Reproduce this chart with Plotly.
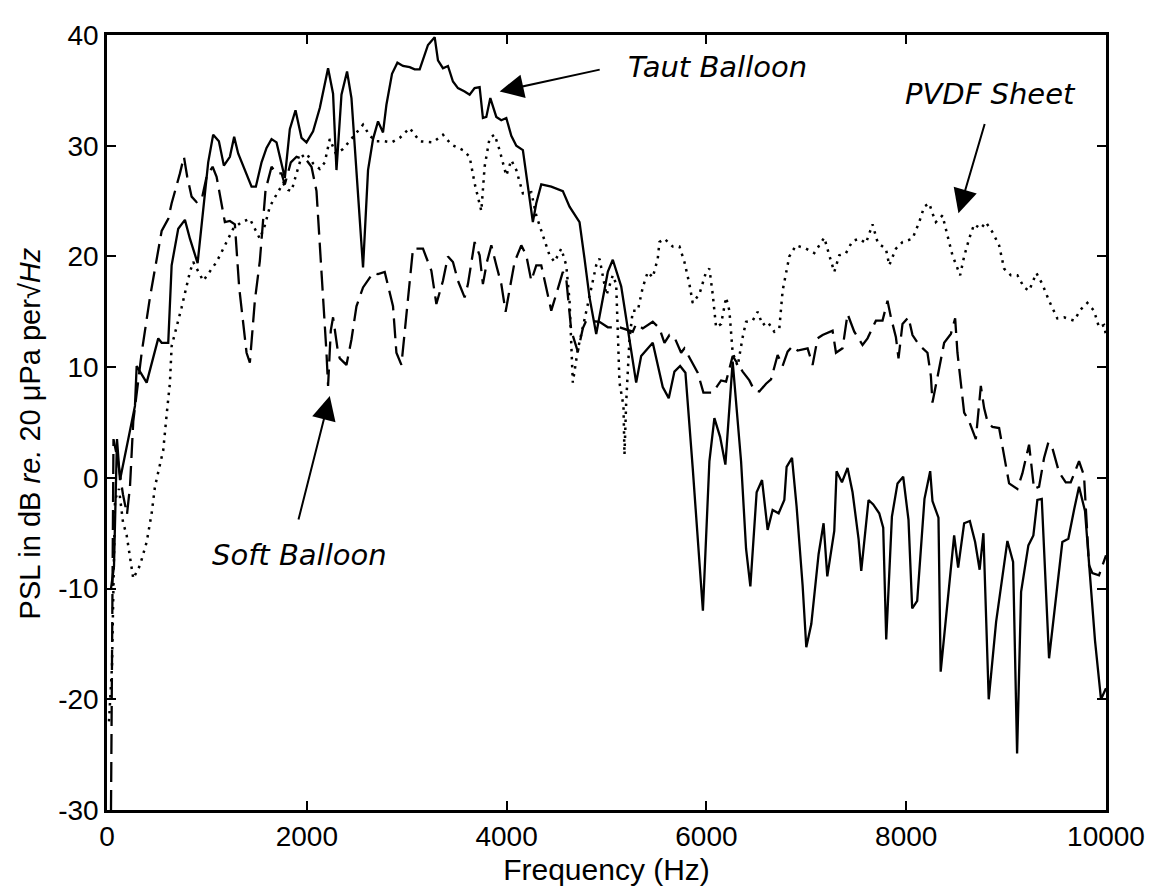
import plotly.graph_objects as go

# ---- Taut Balloon (solid) ----
taut_f = [40, 70, 100, 130, 280, 297, 397, 513, 547, 613, 647, 713, 780, 830, 907, 1013, 1063, 1120, 1170, 1230,
          1273, 1313, 1447, 1490, 1547, 1597, 1647, 1697, 1780, 1830, 1887, 1947, 1997, 2063, 2130, 2213, 2263, 2297,
          2347, 2403, 2447, 2563, 2613, 2663, 2713, 2763, 2797, 2853, 2907, 2963, 3030, 3080, 3130, 3213, 3280, 3313,
          3363, 3413, 3463, 3513, 3580, 3630, 3680, 3730, 3763, 3797, 3837, 3897, 3947, 3997, 4047, 4097, 4163, 4213,
          4263, 4297, 4347, 4447, 4563, 4630, 4730, 4780, 4830, 4897, 5013, 5063, 5147, 5297, 5347, 5463, 5563, 5623,
          5680, 5737, 5790, 5863, 5965, 6030, 6080, 6137, 6190, 6263, 6347, 6397, 6440, 6503, 6557, 6613, 6663, 6723,
          6780, 6803, 6857, 6903, 6963, 7000, 7050, 7123, 7173, 7210, 7280, 7303, 7357, 7413, 7463, 7523, 7550, 7623,
          7670, 7730, 7770, 7800, 7857, 7913, 7970, 8023, 8060, 8110, 8183, 8240, 8263, 8323, 8345, 8480, 8520, 8580,
          8637, 8690, 8735, 8773, 8826, 8900, 9013, 9070, 9110, 9150, 9223, 9273, 9313, 9357, 9430, 9563, 9623, 9680,
          9730, 9790, 9830, 9890, 9950, 10000]
taut_v = [-10, -8, 3.5, -0.2, 6.5, 10.1, 8.6, 12.6, 12.2, 12.2, 19.2, 22.5, 23.3, 21.6, 19.4, 28.5, 31.0, 30.4, 28.2, 29.0,
          30.8, 29.3, 26.3, 26.3, 28.5, 29.8, 30.6, 30.3, 27.1, 31.5, 33.2, 30.7, 30.3, 31.3, 33.4, 37.0, 34.7, 27.8,
          34.6, 36.7, 34.3, 19.0, 27.8, 30.6, 32.2, 31.2, 33.7, 36.5, 37.5, 37.2, 37.1, 36.9, 36.9, 39.1, 39.8, 37.7,
          37.0, 37.2, 35.8, 35.2, 34.9, 34.6, 35.2, 35.3, 32.5, 32.6, 34.3, 32.6, 32.3, 32.5, 30.9, 30.0, 29.6, 26.3,
          23.1, 24.8, 26.5, 26.3, 25.9, 24.5, 23.1, 19.8, 16.3, 13.0, 18.6, 19.7, 17.3, 8.6, 11.0, 12.2, 8.2, 7.2,
          9.6, 10.1, 9.5, 0.9, -12.0, 1.5, 5.4, 3.7, 1.2, 10.5, 1.5, -6.4, -9.8, -1.3, -0.2, -4.7, -2.9, -3.2,
          -2.0, 1.0, 1.8, -2.6, -9.7, -15.3, -13.2, -6.9, -4.1, -8.9, -4.8, 0.6, -0.4, 0.9, -1.3, -5.5, -8.4, -2.0,
          -2.4, -3.2, -4.5, -14.6, -3.5, -0.5, 0.1, -3.8, -11.8, -11.1, -1.9, 0.6, -2.1, -3.6, -17.5, -5.2, -8.1, -4.1,
          -3.9, -5.8, -8.3, -5.0, -20.0, -13.0, -5.7, -7.6, -24.9, -10.3, -6.1, -5.2, -2.0, -1.9, -16.3, -5.8, -5.5, -2.9,
          -0.8, -3.0, -8.0, -14.7, -20.0, -19.0]

# ---- Soft Balloon (dashed) ----
soft_f = [40, 65, 110, 160, 200, 230, 263, 347, 430, 480, 547, 613, 647, 730, 770, 803, 847, 897, 947, 997,
          1057, 1097, 1180, 1230, 1280, 1323, 1397, 1430, 1480, 1530, 1587, 1647, 1697, 1747, 1780, 1840, 1897, 1997,
          2047, 2097, 2163, 2197, 2213, 2240, 2263, 2313, 2330, 2397, 2447, 2497, 2563, 2663, 2713, 2780, 2863, 2897,
          2947, 2997, 3063, 3163, 3247, 3297, 3363, 3413, 3463, 3513, 3580, 3613, 3680, 3730, 3763, 3803, 3847, 3897,
          3947, 3990, 4080, 4147, 4197, 4247, 4297, 4347, 4447, 4497, 4563, 4597, 4647, 4713, 4763, 4797, 4930, 5013,
          5130, 5263, 5297, 5363, 5463, 5530, 5580, 5630, 5680, 5747, 5780, 5913, 5970, 6063, 6147, 6197, 6263, 6363,
          6430, 6480, 6530, 6597, 6647, 6713, 6763, 6813, 6863, 6913, 7013, 7063, 7113, 7163, 7263, 7297, 7363, 7413,
          7480, 7563, 7613, 7697, 7763, 7813, 7847, 7897, 7923, 7963, 8023, 8063, 8130, 8213, 8247, 8263, 8330, 8380,
          8447, 8490, 8513, 8580, 8630, 8697, 8747, 8780, 8813, 8863, 8930, 8980, 9030, 9113, 9163, 9230, 9280, 9330,
          9380, 9423, 9463, 9530, 9597, 9647, 9730, 9780, 9800, 9830, 9863, 9930, 10000]
soft_v = [-30, 3.5, 1.5, -1.5, -3.3, -0.8, 5.1, 11.3, 16.3, 18.9, 22.3, 23.4, 24.8, 27.5, 29.0, 27.2, 25.4, 24.9, 25.1, 27.2,
          28.1, 27.2, 23.1, 23.2, 22.9, 17.2, 11.3, 10.4, 16.0, 19.6, 26.0, 28.1, 27.5, 27.5, 26.5, 28.5, 29.0, 28.7,
          28.1, 25.9, 16.9, 11.3, 8.3, 13.3, 14.5, 11.3, 10.8, 10.2, 12.5, 15.5, 17.2, 18.5, 18.4, 18.6, 15.5, 11.3,
          10.2, 14.5, 20.7, 20.7, 18.7, 15.7, 17.8, 20.0, 19.5, 17.8, 16.3, 17.5, 21.3, 20.1, 17.5, 19.5, 21.0, 19.2,
          17.5, 15.0, 19.5, 21.0, 20.1, 17.8, 19.2, 19.2, 15.1, 16.6, 18.6, 18.0, 13.3, 11.4, 13.5, 14.2, 14.1, 13.6,
          13.6, 13.2, 13.9, 13.5, 14.1, 13.5, 12.2, 12.9, 12.7, 11.3, 11.7, 9.5, 7.7, 7.7, 8.8, 8.7, 11.0, 9.6,
          8.8, 7.9, 7.8, 8.5, 8.9, 11.1, 10.1, 11.4, 11.9, 11.5, 11.7, 10.2, 12.6, 12.9, 13.3, 11.3, 11.7, 14.8,
          13.2, 12.0, 12.6, 14.2, 14.2, 16.0, 14.5, 12.7, 10.8, 13.9, 14.5, 12.9, 12.0, 11.3, 9.2, 6.8, 10.1, 12.2,
          13.0, 14.4, 11.3, 5.9, 5.1, 3.5, 8.3, 6.3, 5.1, 4.6, 4.5, 2.1, -0.5, -1.0, 0.4, 3.0, -1.0, -0.8,
          1.8, 3.2, 2.7, 0.5, -0.4, -0.4, 1.5, 0.2, -3.0, -7.9, -8.6, -8.8, -7.0]

# ---- PVDF Sheet (dotted) ----
pvdf_f = [20, 50, 80, 120, 160, 197, 263, 330, 397, 447, 480, 563, 597, 630, 647, 680, 747, 830, 863, 963,
          1030, 1097, 1197, 1263, 1347, 1430, 1480, 1530, 1580, 1630, 1697, 1763, 1813, 1847, 1897, 1947, 1997, 2063,
          2130, 2180, 2230, 2290, 2363, 2447, 2497, 2563, 2630, 2697, 2780, 2847, 2930, 3030, 3130, 3263, 3363, 3447,
          3563, 3630, 3680, 3747, 3780, 3830, 3880, 3930, 3997, 4047, 4097, 4163, 4247, 4297, 4363, 4430, 4480, 4547,
          4597, 4630, 4663, 4713, 4763, 4847, 4897, 4930, 5000, 5063, 5097, 5130, 5170, 5180, 5197, 5230, 5263, 5313,
          5363, 5413, 5463, 5513, 5530, 5580, 5663, 5730, 5780, 5830, 5863, 5930, 5997, 6030, 6063, 6097, 6147, 6197,
          6230, 6263, 6313, 6363, 6397, 6463, 6513, 6563, 6613, 6680, 6730, 6763, 6797, 6830, 6897, 6997, 7080, 7180,
          7230, 7280, 7330, 7397, 7463, 7530, 7597, 7663, 7713, 7747, 7797, 7830, 7897, 7963, 8063, 8130, 8180, 8230,
          8263, 8297, 8363, 8413, 8463, 8540, 8580, 8630, 8680, 8747, 8797, 8863, 8930, 8980, 9047, 9113, 9180, 9230,
          9303, 9363, 9430, 9513, 9580, 9680, 9747, 9813, 9880, 9930, 9980, 10000]
pvdf_v = [-22, -17, -2, -1, -4, -5.2, -9.1, -7.9, -5.8, -3.2, -0.8, 2.5, 5.7, 8.6, 11.9, 13.0, 15.4, 18.6, 19.5, 17.8,
          18.6, 19.5, 21.3, 22.5, 23.1, 23.4, 22.5, 21.6, 22.8, 24.5, 25.6, 26.6, 26.0, 25.9, 27.5, 29.0, 29.3, 28.4,
          27.9, 28.5, 30.6, 29.3, 29.7, 30.6, 31.2, 31.9, 30.9, 30.4, 30.4, 30.3, 30.7, 31.6, 30.4, 30.3, 31.0, 30.1,
          29.6, 29.0, 26.6, 24.1, 28.1, 30.7, 31.0, 29.6, 27.3, 28.7, 27.8, 25.7, 25.8, 23.7, 21.9, 20.1, 19.5, 20.7,
          19.2, 16.0, 8.6, 11.6, 13.6, 17.2, 19.2, 19.8, 16.5, 18.3, 17.5, 8.6, 6.5, 2.1, 6.8, 12.5, 15.1, 15.1,
          17.2, 18.6, 18.1, 19.8, 21.3, 21.6, 20.9, 20.9, 19.5, 17.5, 15.8, 16.6, 18.6, 18.9, 16.6, 13.6, 13.9, 16.3,
          15.1, 11.3, 10.1, 12.7, 14.1, 14.2, 15.0, 13.8, 14.1, 13.2, 13.5, 16.9, 18.6, 20.0, 21.0, 20.7, 20.3, 21.7,
          20.1, 18.6, 20.1, 20.3, 21.4, 21.6, 21.2, 22.9, 21.3, 21.0, 20.7, 19.2, 20.7, 21.3, 21.6, 23.1, 24.5, 24.8,
          23.9, 23.1, 23.7, 21.9, 20.1, 18.3, 20.0, 21.6, 22.9, 22.5, 23.1, 22.2, 21.0, 18.9, 18.3, 18.3, 17.2, 16.9,
          18.5, 17.5, 16.0, 14.4, 14.5, 14.2, 15.2, 15.8, 15.1, 13.6, 13.8, 12.9]

x_ticks = [0, 2000, 4000, 6000, 8000, 10000]
y_ticks = [-30, -20, -10, 0, 10, 20, 30, 40]

fig = go.Figure()
fig.add_trace(go.Scatter(x=pvdf_f, y=pvdf_v, mode="lines", name="PVDF Sheet",
                         line=dict(color="black", width=2.5, dash="2.5px,5.5px")))
fig.add_trace(go.Scatter(x=soft_f, y=soft_v, mode="lines", name="Soft Balloon",
                         line=dict(color="black", width=2.3, dash="20px,8px")))
fig.add_trace(go.Scatter(x=taut_f, y=taut_v, mode="lines", name="Taut Balloon",
                         line=dict(color="black", width=2.3)))

tick_font = dict(family="Liberation Sans, Arial, sans-serif", size=28, color="black")
title_font = dict(family="Liberation Sans, Arial, sans-serif", size=30, color="black")
ann_font = dict(family="DejaVu Sans, Verdana, sans-serif", size=29, color="black")

# page body has an 8px default margin: figure sized/offset so the plot box sits at the intended place
fig.update_layout(
    width=1149, height=885,
    margin=dict(l=99, r=49, t=14, b=80),
    paper_bgcolor="white", plot_bgcolor="white",
    showlegend=False,
    xaxis=dict(range=[0, 10000], tickvals=x_ticks, ticktext=[str(t) for t in x_ticks],
               ticks="inside", ticklen=9, tickwidth=2, tickcolor="black",
               showline=True, linewidth=2.5, linecolor="black", mirror="ticks",
               showgrid=False, zeroline=False, tickfont=tick_font, ticklabeloverflow="allow",
               title=dict(text="Frequency (Hz)", font=title_font, standoff=8)),
    yaxis=dict(range=[-30, 40], tickvals=y_ticks, ticktext=[str(t) for t in y_ticks],
               ticks="inside", ticklen=9, tickwidth=2, tickcolor="black",
               showline=True, linewidth=2.5, linecolor="black", mirror="ticks",
               showgrid=False, zeroline=False, tickfont=tick_font, ticklabeloverflow="allow"),
)

# y-axis title as rotated annotation
fig.add_annotation(xref="paper", yref="paper", x=-0.077, y=0.486, textangle=-90,
                   showarrow=False, xanchor="center", yanchor="middle",
                   text="PSL in dB <i>re.</i> 20 μPa per√<i>Hz</i>",
                   font=dict(family="Liberation Sans, Arial, sans-serif", size=29, color="black"))

# Labels
fig.add_annotation(x=5200, y=37.1, xref="x", yref="y", text="<i>Taut Balloon</i>", showarrow=False,
                   xanchor="left", yanchor="middle", font=ann_font)
fig.add_annotation(x=7970, y=34.7, xref="x", yref="y", text="<i>PVDF Sheet</i>", showarrow=False,
                   xanchor="left", yanchor="middle", font=ann_font)
fig.add_annotation(x=1030, y=-7.0, xref="x", yref="y", text="<i>Soft Balloon</i>", showarrow=False,
                   xanchor="left", yanchor="middle", font=ann_font)

# Arrows
arrows = [((3930, 34.9), (4947, 36.9)), ((8523, 23.9), (8790, 32.1)), ((2230, 7.4), (1913, -3.9))]
for (tx, ty), (sx, sy) in arrows:
    fig.add_annotation(x=tx, y=ty, ax=sx, ay=sy, xref="x", yref="y", axref="x", ayref="y",
                       text="", showarrow=True, arrowhead=2, arrowsize=2.4, arrowwidth=2,
                       arrowcolor="black", standoff=0, startstandoff=0)

fig.write_html("out.html")
